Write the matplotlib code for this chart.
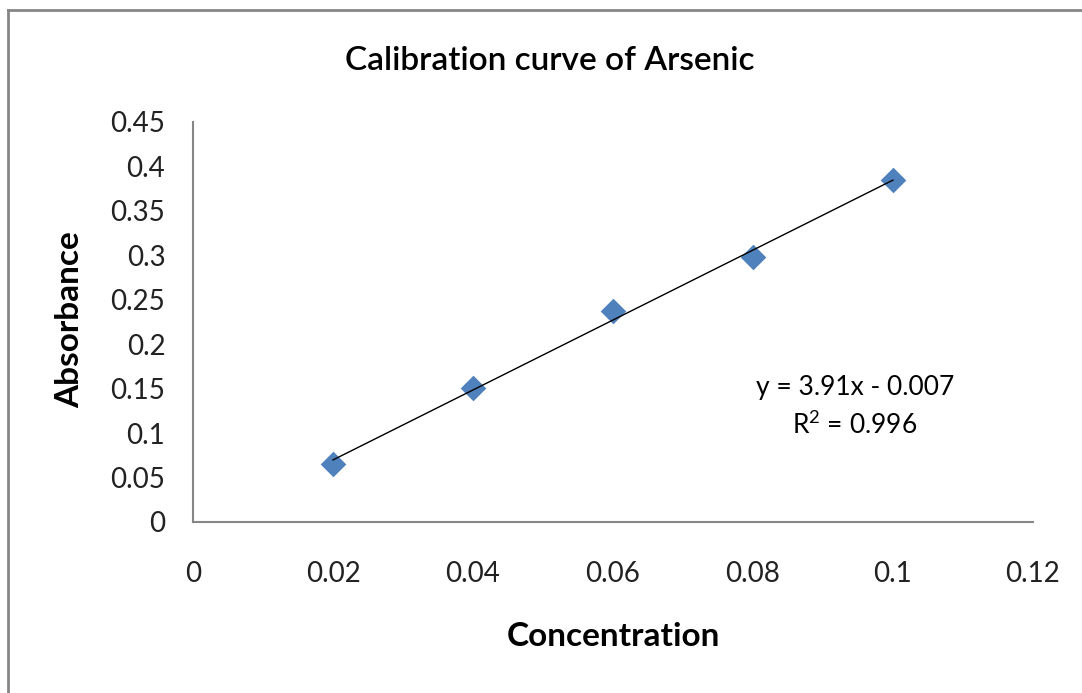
import matplotlib
matplotlib.use("Agg")
import matplotlib.pyplot as plt
import numpy as np
from matplotlib.lines import Line2D

concentration = [0.02, 0.04, 0.06, 0.08, 0.10]
absorbance = [0.065, 0.151, 0.237, 0.298, 0.385]
x_ticks = [0, 0.02, 0.04, 0.06, 0.08, 0.1, 0.12]
x_tick_labels = ["0", "0.02", "0.04", "0.06", "0.08", "0.1", "0.12"]
y_ticks = [0, 0.05, 0.1, 0.15, 0.2, 0.25, 0.3, 0.35, 0.4, 0.45]
y_tick_labels = ["0", "0.05", "0.1", "0.15", "0.2", "0.25", "0.3", "0.35", "0.4", "0.45"]
equation_text = "y = 3.91x - 0.007"
r2_text = "R$^2$ = 0.996"

plt.rcParams['font.family'] = ['Lato', 'DejaVu Sans']
plt.rcParams['mathtext.fontset'] = 'custom'
plt.rcParams['mathtext.rm'] = 'Lato'

fig = plt.figure(figsize=(10.82, 6.93), dpi=100)
ax = fig.add_axes([0.1784, 0.2468, 0.9547 - 0.1784, 0.8240 - 0.2468])

axis_col = "#868686"
ax.scatter(concentration, absorbance, marker='D', s=170, color="#4F81BD", zorder=3, linewidths=0)

slope, intercept = np.polyfit(concentration, absorbance, 1)
xs = np.array([min(concentration), max(concentration)])
ax.plot(xs, slope * xs + intercept, color="black", lw=1.0, zorder=4)

ax.set_xlim(0, 0.12)
ax.set_ylim(0, 0.45)
ax.set_xticks(x_ticks)
ax.set_xticklabels(x_tick_labels)
ax.set_yticks(y_ticks)
ax.set_yticklabels(y_tick_labels)
ax.tick_params(axis='x', length=0, pad=28, labelsize=20, colors="#222222")
ax.tick_params(axis='y', length=0, pad=20, labelsize=20, colors="#222222")

for s in ['top', 'right']:
    ax.spines[s].set_visible(False)
for s in ['left', 'bottom']:
    ax.spines[s].set_color(axis_col)
    ax.spines[s].set_linewidth(1.5)

fig.text(613 / 1082, 1 - 637 / 693, "Concentration", ha='center', va='center',
         fontsize=24, fontweight='bold')
fig.text(70 / 1082, 1 - 320 / 693, "Absorbance", ha='center', va='center', rotation=90,
         fontsize=24, fontweight='bold')
fig.text(550 / 1082, 1 - 61 / 693, "Calibration curve of Arsenic", ha='center', va='center',
         fontsize=24, fontweight='semibold')

fig.text(855 / 1082, 1 - 388 / 693, equation_text, ha='center', va='center', fontsize=19)
fig.text(855 / 1082, 1 - 425 / 693, r2_text, ha='center', va='center', fontsize=19)

fig.add_artist(Line2D([8 / 1082, 8 / 1082], [0, 1 - 10 / 693], transform=fig.transFigure, color=axis_col, lw=2))
fig.add_artist(Line2D([8 / 1082, 1], [1 - 10 / 693, 1 - 10 / 693], transform=fig.transFigure, color=axis_col, lw=2))

fig.savefig("out.png", dpi=100)
